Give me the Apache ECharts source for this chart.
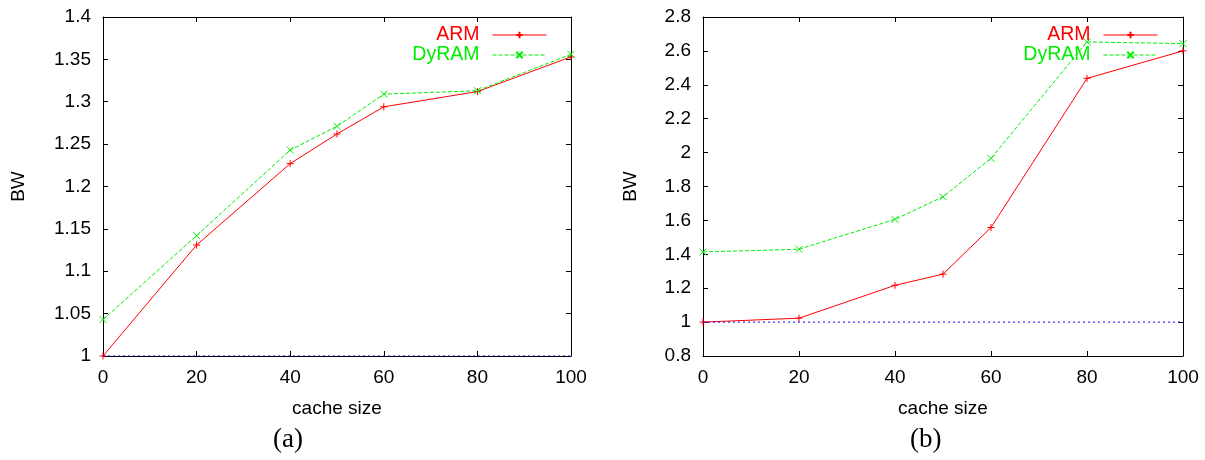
<!DOCTYPE html>
<html>
<head>
<meta charset="utf-8">
<script src="https://cdn.jsdelivr.net/npm/echarts@6/dist/echarts.min.js"></script>
<style>
  html, body { margin: 0; padding: 0; background: #fff; }
  #chart { width: 1205px; height: 460px; }
</style>
</head>
<body>
<div id="chart"></div>
<script>
// cache size values (x)
var cacheSize = [0, 20, 40, 50, 60, 80, 100]
// panel (a)
var armA = [1.0, 1.131, 1.227, 1.262, 1.294, 1.312, 1.353]
var dyramA = [1.043, 1.142, 1.243, 1.271, 1.309, 1.313, 1.356]
// panel (b)
var armB = [1.0, 1.023, 1.217, 1.283, 1.558, 2.438, 2.6]
var dyramB = [1.414, 1.43, 1.606, 1.739, 1.966, 2.653, 2.643]
// baseline
var baseX = [0, 100]
var baseY = [1, 1]

var FONT = 'Liberation Sans'
var plusSym = 'path://M5,0L5,10M0,5L10,5'
var crossSym = 'path://M0,0L10,10M10,0L0,10'

function pairs(xs, ys) {
  return xs.map(function(x, i) { return [x, ys[i]] })
}

function xAxes(gridIndex) {
  var common = {
    type: 'value', gridIndex: gridIndex, min: 0, max: 100, interval: 20,
    splitLine: { show: false },
    axisLine: { show: true, onZero: false, lineStyle: { color: '#000', width: 1 } },
    axisTick: { show: true, inside: true, length: 5, lineStyle: { color: '#000' } }
  }
  return [
    Object.assign({}, common, {
      position: 'bottom',
      name: 'cache size', nameLocation: 'middle', nameGap: 43,
      nameTextStyle: { fontFamily: FONT, fontSize: 19, color: '#000' },
      axisLabel: { fontFamily: FONT, fontSize: 19, color: '#000', margin: 12 }
    }),
    Object.assign({}, common, { position: 'top', axisLabel: { show: false } })
  ]
}

function yAxes(gridIndex, min, max, interval, gap) {
  var common = {
    type: 'value', gridIndex: gridIndex, min: min, max: max, interval: interval,
    splitLine: { show: false },
    axisLine: { show: true, onZero: false, lineStyle: { color: '#000', width: 1 } },
    axisTick: { show: true, inside: true, length: 5, lineStyle: { color: '#000' } }
  }
  return [
    Object.assign({}, common, {
      position: 'left',
      name: 'BW', nameLocation: 'middle', nameGap: gap, nameRotate: 90,
      nameTextStyle: { fontFamily: FONT, fontSize: 19, color: '#000' },
      axisLabel: { fontFamily: FONT, fontSize: 19, color: '#000', margin: 12 }
    }),
    Object.assign({}, common, { position: 'right', axisLabel: { show: false } })
  ]
}

function lineSeries(name, data, xi, yi, color, type, sym) {
  return {
    name: name, type: 'line', xAxisIndex: xi, yAxisIndex: yi,
    data: data, color: color,
    symbol: sym, symbolSize: 7,
    itemStyle: { color: color, borderColor: color, borderWidth: 1 },
    lineStyle: { color: color, width: 1, type: type },
    emphasis: { disabled: true },
    z: 3
  }
}

function legendFor(right) {
  return {
    orient: 'vertical', align: 'right', right: right, top: 25,
    padding: 0, itemGap: 0, itemWidth: 54, itemHeight: 8,
    selectedMode: false,
    lineStyle: { width: 1 },
    textStyle: { fontFamily: FONT, fontSize: 19.5, lineHeight: 20, padding: [0, 8, 0, 0] },
    data: [
      { name: 'ARM', textStyle: { color: '#ff0000' } },
      { name: 'DyRAM', textStyle: { color: '#00ee00' } }
    ]
  }
}

var chart = echarts.init(document.getElementById('chart'))
var option = {
  animation: false,
  grid: [
    { left: 103, top: 17, width: 468, height: 339 },
    { left: 703, top: 17, width: 480, height: 339 }
  ],
  xAxis: xAxes(0).concat(xAxes(1)),
  yAxis: yAxes(0, 1, 1.4, 0.05, 75).concat(yAxes(1, 0.8, 2.8, 0.2, 63)),
  legend: [legendFor(658), legendFor(47)],
  graphic: [
    { type: 'text', left: 273, top: 426, style: { text: '(a)', font: '27px "Liberation Serif"', fill: '#000' } },
    { type: 'text', left: 910, top: 426, style: { text: '(b)', font: '27px "Liberation Serif"', fill: '#000' } }
  ],
  series: [
    lineSeries('ARM', pairs(cacheSize, armA), 0, 0, '#ff0000', 'solid', plusSym),
    lineSeries('DyRAM', pairs(cacheSize, dyramA), 0, 0, '#00ee00', [4, 2], crossSym),
    {
      name: 'base', type: 'line', xAxisIndex: 0, yAxisIndex: 0,
      data: pairs(baseX, baseY), showSymbol: false, symbol: 'none',
      lineStyle: { color: '#0000ff', width: 1, type: [2, 3] }, z: 4
    },
    lineSeries('ARM', pairs(cacheSize, armB), 2, 2, '#ff0000', 'solid', plusSym),
    lineSeries('DyRAM', pairs(cacheSize, dyramB), 2, 2, '#00ee00', [4, 2], crossSym),
    {
      name: 'base', type: 'line', xAxisIndex: 2, yAxisIndex: 2,
      data: pairs(baseX, baseY), showSymbol: false, symbol: 'none',
      lineStyle: { color: '#0000ff', width: 1, type: [2, 3] }, z: 4
    }
  ]
}
chart.setOption(option)
</script>
</body>
</html>
